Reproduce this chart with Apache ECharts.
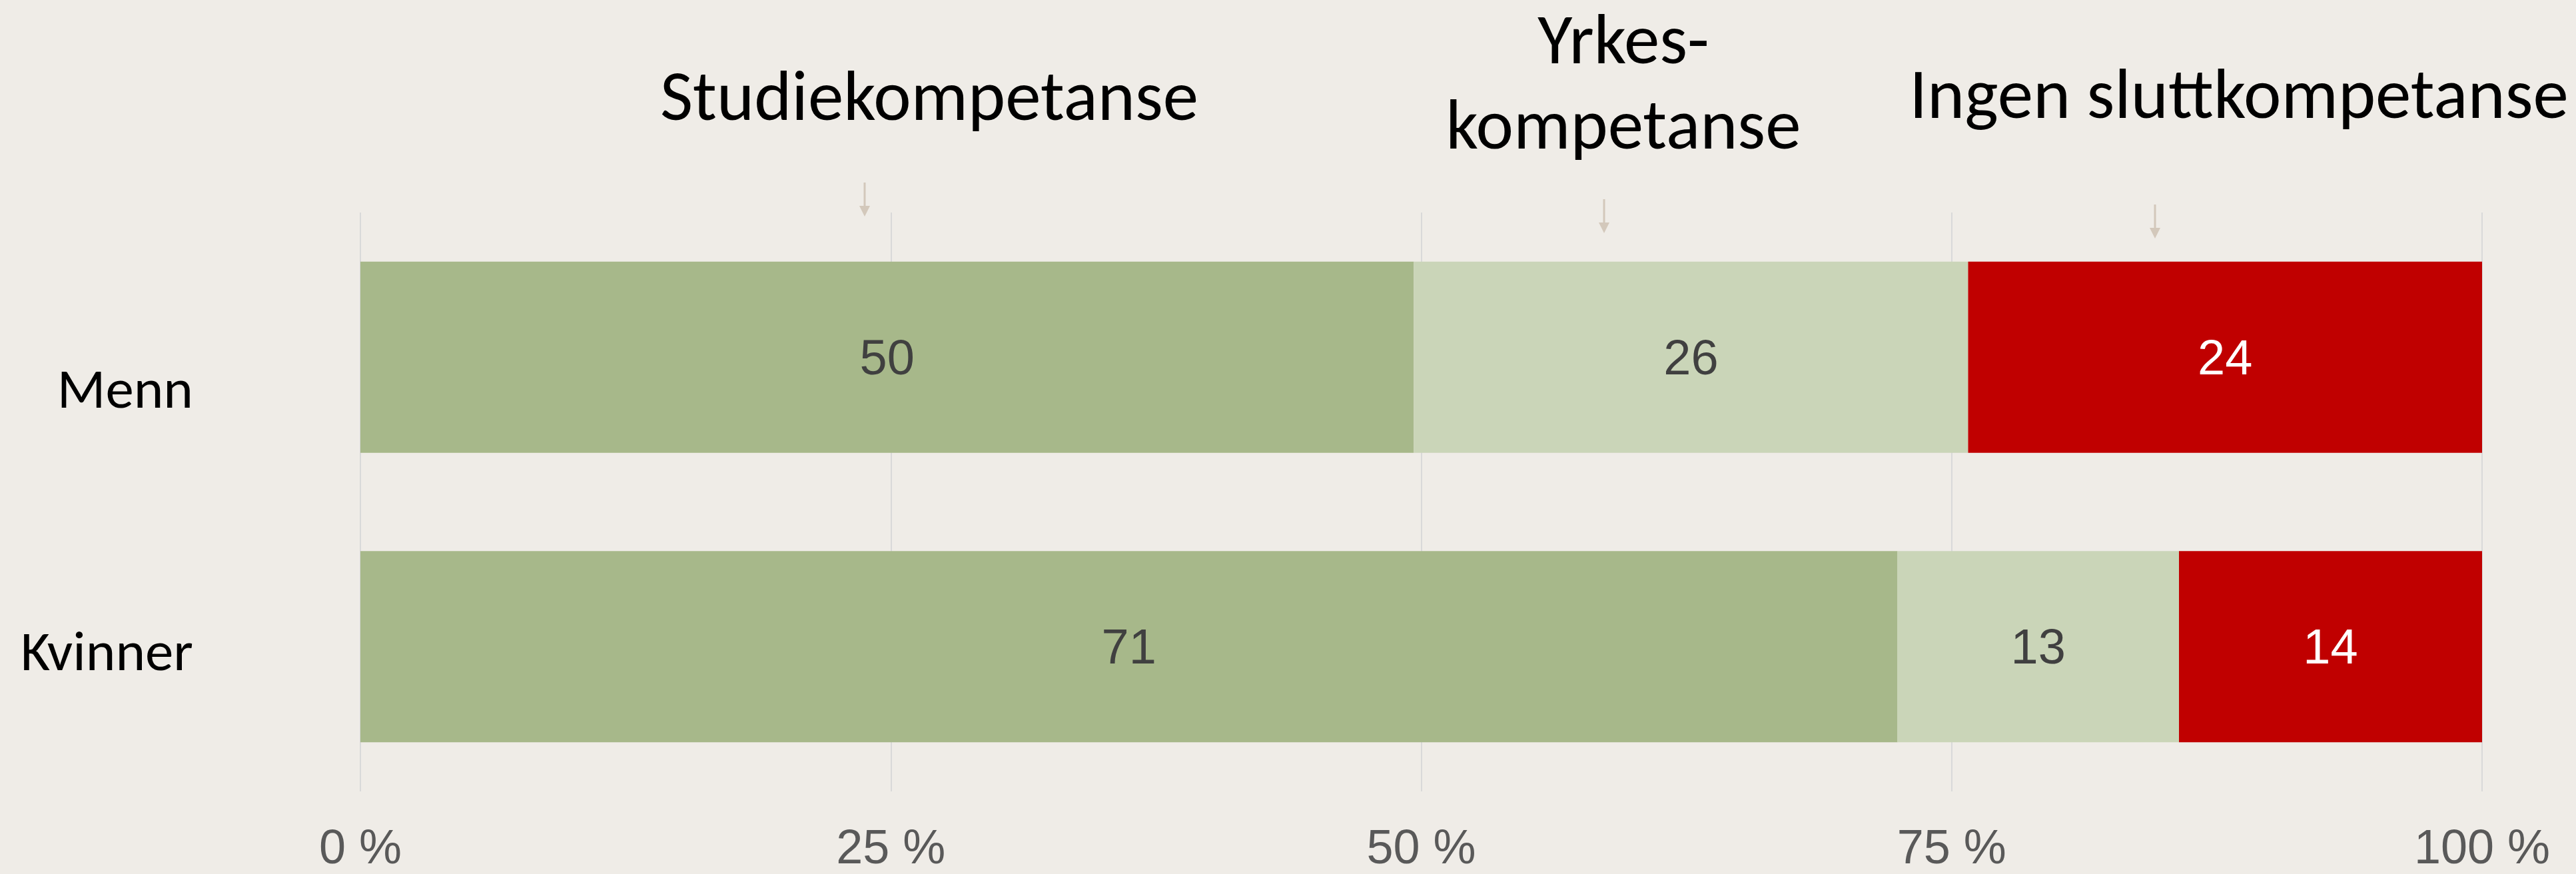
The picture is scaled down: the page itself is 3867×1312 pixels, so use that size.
<!DOCTYPE html>
<html>
<head>
<meta charset="utf-8">
<style>
  html, body { margin: 0; padding: 0; background: #efece7; }
  #chart { width: 3867px; height: 1312px; }
</style>
<script src="https://cdn.jsdelivr.net/npm/echarts@6/dist/echarts.min.js"></script>
</head>
<body>
<div id="chart"></div>
<script>
// ---- data (labels show them rounded) ----
const categories = ['Menn', 'Kvinner'];
const seriesNames = ['Studiekompetanse', 'Yrkeskompetanse', 'Ingen sluttkompetanse'];
const studiekompetanse = [49.6, 71];
const yrkeskompetanse = [26.1, 13];
const ingenSluttkompetanse = [24.2, 14];
const xTicks = [0, 25, 50, 75, 100];

// ---- build ----
const raw = [studiekompetanse, yrkeskompetanse, ingenSluttkompetanse];
const totals = categories.map((c, i) => raw.reduce((s, arr) => s + arr[i], 0));
const colors = ['#a7b88a', '#cad5b8', '#c00000'];
const labelColors = ['#404040', '#404040', '#ffffff'];

const series = raw.map((arr, k) => ({
  name: seriesNames[k],
  type: 'bar',
  stack: 'total',
  barWidth: 287,
  itemStyle: { color: colors[k] },
  label: {
    show: true,
    position: 'inside',
    offset: [0, 5],
    color: labelColors[k],
    fontFamily: 'Liberation Sans, Arial, sans-serif',
    fontSize: 74,
    formatter: p => String(Math.round(arr[p.dataIndex]))
  },
  data: arr.map((v, i) => v / totals[i] * 100)
}));

const titleFont = 'Carlito, Calibri, Lato, sans-serif';
function headText(text, x, y) {
  return {
    type: 'text', x: x, y: y,
    style: { text: text, fill: '#000', font: '107px ' + titleFont, align: 'center', verticalAlign: 'middle' }
  };
}
function arrow(x, y0, y1) {
  return {
    type: 'group',
    children: [
      { type: 'line', shape: { x1: x, y1: y0, x2: x, y2: y1 - 12 }, style: { stroke: '#d3c8bb', lineWidth: 3 } },
      { type: 'polygon', shape: { points: [[x - 8, y1 - 16], [x + 8, y1 - 16], [x, y1]] }, style: { fill: '#d3c8bb' } }
    ]
  };
}

const chart = echarts.init(document.getElementById('chart'), null, { renderer: 'canvas' });
chart.setOption({
  backgroundColor: '#efece7',
  animation: false,
  grid: { left: 541, right: 141, top: 319, bottom: 124, containLabel: false },
  xAxis: {
    type: 'value',
    min: 0, max: 100, interval: 25,
    axisLine: { show: false },
    axisTick: { show: false },
    splitLine: { show: true, lineStyle: { color: '#d9d9d9', width: 2 } },
    axisLabel: {
      margin: 52,
      fontSize: 72,
      color: '#595959',
      fontFamily: 'Liberation Sans, Arial, sans-serif',
      formatter: v => xTicks.includes(v) ? v + ' %' : ''
    }
  },
  yAxis: {
    type: 'category',
    inverse: true,
    data: categories,
    axisLine: { show: false },
    axisTick: { show: false },
    axisLabel: {
      margin: 251,
      color: '#000',
      fontSize: 85,
      fontFamily: titleFont,
      formatter: v => v === 'Menn' ? '{m|' + v + '}' : '{k|' + v + '}',
      rich: {
        m: { fontSize: 85, fontFamily: titleFont, color: '#000', padding: [108, 0, 0, 0] },
        k: { fontSize: 85, fontFamily: titleFont, color: '#000', padding: [28, 0, 0, 0] }
      }
    }
  },
  series: series,
  graphic: [
    headText('Studiekompetanse', 1395, 153),
    headText('Yrkes-', 2437, 68),
    headText('kompetanse', 2437, 196),
    headText('Ingen sluttkompetanse', 3361, 150),
    arrow(1298, 274, 325),
    arrow(2408, 299, 350),
    arrow(3235, 307, 358)
  ]
});
</script>
</body>
</html>
